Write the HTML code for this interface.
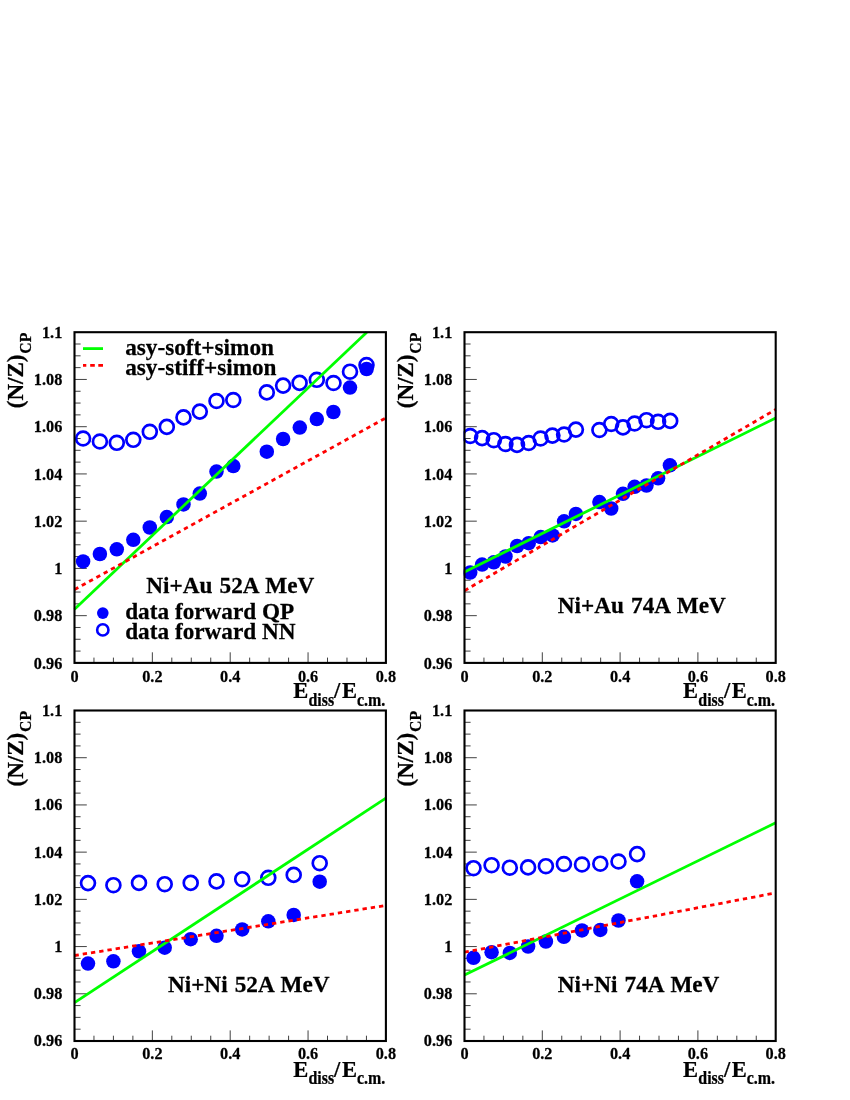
<!DOCTYPE html>
<html><head><meta charset="utf-8"><title>N/Z vs Ediss</title>
<style>
html,body{margin:0;padding:0;background:#fff;}
body{width:850px;height:1100px;overflow:hidden;font-family:"Liberation Serif", serif;}
svg{display:block;position:absolute;left:0;top:0;will-change:transform;}
svg text{font-family:"Liberation Serif", serif;font-weight:bold;fill:#000;stroke:#000;stroke-width:0.25px;}
</style></head>
<body>
<svg width="850" height="1100" viewBox="0 0 850 1100">
<rect x="0" y="0" width="850" height="1100" fill="#fff"/>
<g id="p1">
<clipPath id="c1"><rect x="73.5" y="331.2" width="313.4" height="332.7"/></clipPath>
<path d="M74.5 651.09h6.1M74.5 639.28h6.1M74.5 627.47h6.1M74.5 615.66h12.3M74.5 603.85h6.1M74.5 592.04h6.1M74.5 580.23h6.1M74.5 568.41h12.3M74.5 556.6h6.1M74.5 544.79h6.1M74.5 532.98h6.1M74.5 521.17h12.3M74.5 509.36h6.1M74.5 497.55h6.1M74.5 485.74h6.1M74.5 473.93h12.3M74.5 462.12h6.1M74.5 450.31h6.1M74.5 438.5h6.1M74.5 426.69h12.3M74.5 414.88h6.1M74.5 403.06h6.1M74.5 391.25h6.1M74.5 379.44h12.3M74.5 367.63h6.1M74.5 355.82h6.1M74.5 344.01h6.1M93.96 662.9v-5.3M113.42 662.9v-5.3M132.89 662.9v-5.3M152.35 662.9v-10.6M171.81 662.9v-5.3M191.27 662.9v-5.3M210.74 662.9v-5.3M230.2 662.9v-10.6M249.66 662.9v-5.3M269.12 662.9v-5.3M288.59 662.9v-5.3M308.05 662.9v-10.6M327.51 662.9v-5.3M346.97 662.9v-5.3M366.44 662.9v-5.3" stroke="#000" stroke-width="0.75" fill="none"/>
<g clip-path="url(#c1)" fill="none" stroke="#0000ff" stroke-width="2.7"><circle cx="83.1" cy="438.5" r="6.95"/><circle cx="99.9" cy="441.5" r="6.95"/><circle cx="116.8" cy="442.8" r="6.95"/><circle cx="133.3" cy="439.8" r="6.95"/><circle cx="149.8" cy="431.8" r="6.95"/><circle cx="166.8" cy="426.9" r="6.95"/><circle cx="183.5" cy="417.4" r="6.95"/><circle cx="199.8" cy="411.6" r="6.95"/><circle cx="216.5" cy="401" r="6.95"/><circle cx="233.3" cy="400" r="6.95"/><circle cx="266.8" cy="392.4" r="6.95"/><circle cx="283.1" cy="385.6" r="6.95"/><circle cx="299.6" cy="382.9" r="6.95"/><circle cx="316.8" cy="379.8" r="6.95"/><circle cx="333.5" cy="383" r="6.95"/><circle cx="350" cy="371.7" r="6.95"/><circle cx="366.5" cy="365" r="6.95"/></g>
<g clip-path="url(#c1)" fill="#0000ff"><circle cx="83.1" cy="561.4" r="7.25"/><circle cx="99.9" cy="554" r="7.25"/><circle cx="116.8" cy="549.3" r="7.25"/><circle cx="133.3" cy="539.8" r="7.25"/><circle cx="149.8" cy="527.5" r="7.25"/><circle cx="166.8" cy="517.1" r="7.25"/><circle cx="183.5" cy="504.4" r="7.25"/><circle cx="199.8" cy="493.6" r="7.25"/><circle cx="216.5" cy="471.6" r="7.25"/><circle cx="233.3" cy="466.1" r="7.25"/><circle cx="266.8" cy="451.7" r="7.25"/><circle cx="283.1" cy="439" r="7.25"/><circle cx="299.8" cy="427.6" r="7.25"/><circle cx="316.8" cy="419.1" r="7.25"/><circle cx="333.4" cy="412" r="7.25"/><circle cx="350" cy="387.6" r="7.25"/><circle cx="366.6" cy="369" r="7.25"/></g>
<line x1="74.5" y1="609.2" x2="366.8" y2="332.2" stroke="#00ff00" stroke-width="2.8"/>
<line x1="74.5" y1="589.6" x2="385.9" y2="417.9" stroke="#ff0000" stroke-width="2.8" stroke-dasharray="4.35 3.985"/>
<rect x="74.5" y="332.2" width="311.4" height="330.7" fill="none" stroke="#000" stroke-width="2.1"/>
<text transform="translate(62.3 668.7) scale(0.935 1)" text-anchor="end" font-size="17.4">0.96</text>
<text transform="translate(62.3 621.46) scale(0.935 1)" text-anchor="end" font-size="17.4">0.98</text>
<text transform="translate(62.3 574.21) scale(0.935 1)" text-anchor="end" font-size="17.4">1</text>
<text transform="translate(62.3 526.97) scale(0.935 1)" text-anchor="end" font-size="17.4">1.02</text>
<text transform="translate(62.3 479.73) scale(0.935 1)" text-anchor="end" font-size="17.4">1.04</text>
<text transform="translate(62.3 432.49) scale(0.935 1)" text-anchor="end" font-size="17.4">1.06</text>
<text transform="translate(62.3 385.24) scale(0.935 1)" text-anchor="end" font-size="17.4">1.08</text>
<text transform="translate(62.3 338) scale(0.935 1)" text-anchor="end" font-size="17.4">1.1</text>
<text transform="translate(74.5 681.8) scale(0.935 1)" text-anchor="middle" font-size="17.4">0</text>
<text transform="translate(152.35 681.8) scale(0.935 1)" text-anchor="middle" font-size="17.4">0.2</text>
<text transform="translate(230.2 681.8) scale(0.935 1)" text-anchor="middle" font-size="17.4">0.4</text>
<text transform="translate(308.05 681.8) scale(0.935 1)" text-anchor="middle" font-size="17.4">0.6</text>
<text transform="translate(385.9 681.8) scale(0.935 1)" text-anchor="middle" font-size="17.4">0.8</text>
<text transform="translate(293.3 698.4) scale(0.94 1)" font-size="24.0">E</text>
<text transform="translate(308.5 705.6) scale(0.895 1)" font-size="17.8">diss</text>
<text transform="translate(334.1 698.4) scale(0.94 1)" font-size="24.0">/</text>
<text transform="translate(341.9 698.4) scale(0.94 1)" font-size="24.0">E</text>
<text transform="translate(356.9 705.6) scale(0.895 1)" font-size="17.8">c.m.</text>
<text transform="translate(23.2 354.5) rotate(-90) scale(0.975 1)" text-anchor="end" font-size="23.6">(N/Z)</text>
<text transform="translate(30.8 332.7) rotate(-90) scale(0.935 1)" text-anchor="end" font-size="16.8">CP</text>
<text word-spacing="1.3" transform="translate(146.3 593) scale(0.985 1)" font-size="23.6">Ni+Au 52A MeV</text>
</g>
<g id="p2">
<clipPath id="c2"><rect x="463.5" y="331.2" width="313.2" height="332.7"/></clipPath>
<path d="M464.5 651.09h6.1M464.5 639.28h6.1M464.5 627.47h6.1M464.5 615.66h12.3M464.5 603.85h6.1M464.5 592.04h6.1M464.5 580.23h6.1M464.5 568.41h12.3M464.5 556.6h6.1M464.5 544.79h6.1M464.5 532.98h6.1M464.5 521.17h12.3M464.5 509.36h6.1M464.5 497.55h6.1M464.5 485.74h6.1M464.5 473.93h12.3M464.5 462.12h6.1M464.5 450.31h6.1M464.5 438.5h6.1M464.5 426.69h12.3M464.5 414.88h6.1M464.5 403.06h6.1M464.5 391.25h6.1M464.5 379.44h12.3M464.5 367.63h6.1M464.5 355.82h6.1M464.5 344.01h6.1M483.95 662.9v-5.3M503.4 662.9v-5.3M522.85 662.9v-5.3M542.3 662.9v-10.6M561.75 662.9v-5.3M581.2 662.9v-5.3M600.65 662.9v-5.3M620.1 662.9v-10.6M639.55 662.9v-5.3M659 662.9v-5.3M678.45 662.9v-5.3M697.9 662.9v-10.6M717.35 662.9v-5.3M736.8 662.9v-5.3M756.25 662.9v-5.3" stroke="#000" stroke-width="0.75" fill="none"/>
<g clip-path="url(#c2)" fill="none" stroke="#0000ff" stroke-width="2.7"><circle cx="470.2" cy="436" r="6.95"/><circle cx="482.1" cy="438.1" r="6.95"/><circle cx="493.8" cy="440.2" r="6.95"/><circle cx="505.4" cy="444" r="6.95"/><circle cx="517" cy="444.9" r="6.95"/><circle cx="528.7" cy="443" r="6.95"/><circle cx="540.6" cy="438.5" r="6.95"/><circle cx="552.4" cy="435.6" r="6.95"/><circle cx="564.1" cy="434.5" r="6.95"/><circle cx="575.9" cy="429.6" r="6.95"/><circle cx="599.4" cy="430" r="6.95"/><circle cx="611.2" cy="424" r="6.95"/><circle cx="623" cy="427.4" r="6.95"/><circle cx="634.6" cy="423.5" r="6.95"/><circle cx="646.5" cy="420.2" r="6.95"/><circle cx="658.1" cy="421.8" r="6.95"/><circle cx="670.2" cy="420.9" r="6.95"/></g>
<g clip-path="url(#c2)" fill="#0000ff"><circle cx="470.2" cy="572.5" r="7.25"/><circle cx="482.1" cy="564.6" r="7.25"/><circle cx="493.8" cy="562.3" r="7.25"/><circle cx="505.5" cy="556.5" r="7.25"/><circle cx="517.1" cy="546" r="7.25"/><circle cx="528.7" cy="543.2" r="7.25"/><circle cx="540.7" cy="537.1" r="7.25"/><circle cx="552.6" cy="535.4" r="7.25"/><circle cx="564.1" cy="521.3" r="7.25"/><circle cx="575.9" cy="513.9" r="7.25"/><circle cx="599.4" cy="502.1" r="7.25"/><circle cx="611.2" cy="508.5" r="7.25"/><circle cx="623" cy="493.8" r="7.25"/><circle cx="634.6" cy="486.8" r="7.25"/><circle cx="646.5" cy="485.5" r="7.25"/><circle cx="658.1" cy="478.3" r="7.25"/><circle cx="669.9" cy="465.3" r="7.25"/></g>
<line x1="464.5" y1="571.9" x2="775.7" y2="418" stroke="#00ff00" stroke-width="2.8"/>
<line x1="464.5" y1="590.7" x2="775.7" y2="409.5" stroke="#ff0000" stroke-width="2.8" stroke-dasharray="4.35 3.985"/>
<rect x="464.5" y="332.2" width="311.2" height="330.7" fill="none" stroke="#000" stroke-width="2.1"/>
<text transform="translate(452.3 668.7) scale(0.935 1)" text-anchor="end" font-size="17.4">0.96</text>
<text transform="translate(452.3 621.46) scale(0.935 1)" text-anchor="end" font-size="17.4">0.98</text>
<text transform="translate(452.3 574.21) scale(0.935 1)" text-anchor="end" font-size="17.4">1</text>
<text transform="translate(452.3 526.97) scale(0.935 1)" text-anchor="end" font-size="17.4">1.02</text>
<text transform="translate(452.3 479.73) scale(0.935 1)" text-anchor="end" font-size="17.4">1.04</text>
<text transform="translate(452.3 432.49) scale(0.935 1)" text-anchor="end" font-size="17.4">1.06</text>
<text transform="translate(452.3 385.24) scale(0.935 1)" text-anchor="end" font-size="17.4">1.08</text>
<text transform="translate(452.3 338) scale(0.935 1)" text-anchor="end" font-size="17.4">1.1</text>
<text transform="translate(464.5 681.8) scale(0.935 1)" text-anchor="middle" font-size="17.4">0</text>
<text transform="translate(542.3 681.8) scale(0.935 1)" text-anchor="middle" font-size="17.4">0.2</text>
<text transform="translate(620.1 681.8) scale(0.935 1)" text-anchor="middle" font-size="17.4">0.4</text>
<text transform="translate(697.9 681.8) scale(0.935 1)" text-anchor="middle" font-size="17.4">0.6</text>
<text transform="translate(775.7 681.8) scale(0.935 1)" text-anchor="middle" font-size="17.4">0.8</text>
<text transform="translate(683.1 698.4) scale(0.94 1)" font-size="24.0">E</text>
<text transform="translate(698.3 705.6) scale(0.895 1)" font-size="17.8">diss</text>
<text transform="translate(723.9 698.4) scale(0.94 1)" font-size="24.0">/</text>
<text transform="translate(731.7 698.4) scale(0.94 1)" font-size="24.0">E</text>
<text transform="translate(746.7 705.6) scale(0.895 1)" font-size="17.8">c.m.</text>
<text transform="translate(413.2 354.5) rotate(-90) scale(0.975 1)" text-anchor="end" font-size="23.6">(N/Z)</text>
<text transform="translate(420.8 332.7) rotate(-90) scale(0.935 1)" text-anchor="end" font-size="16.8">CP</text>
<text word-spacing="1.3" transform="translate(557.8 612.9) scale(0.985 1)" font-size="23.6">Ni+Au 74A MeV</text>
</g>
<g id="p3">
<clipPath id="c3"><rect x="73.5" y="709.5" width="313.4" height="332.5"/></clipPath>
<path d="M74.5 1029.2h6.1M74.5 1017.39h6.1M74.5 1005.59h6.1M74.5 993.79h12.3M74.5 981.98h6.1M74.5 970.18h6.1M74.5 958.38h6.1M74.5 946.57h12.3M74.5 934.77h6.1M74.5 922.96h6.1M74.5 911.16h6.1M74.5 899.36h12.3M74.5 887.55h6.1M74.5 875.75h6.1M74.5 863.95h6.1M74.5 852.14h12.3M74.5 840.34h6.1M74.5 828.54h6.1M74.5 816.73h6.1M74.5 804.93h12.3M74.5 793.12h6.1M74.5 781.32h6.1M74.5 769.52h6.1M74.5 757.71h12.3M74.5 745.91h6.1M74.5 734.11h6.1M74.5 722.3h6.1M93.96 1041v-5.3M113.42 1041v-5.3M132.89 1041v-5.3M152.35 1041v-10.6M171.81 1041v-5.3M191.27 1041v-5.3M210.74 1041v-5.3M230.2 1041v-10.6M249.66 1041v-5.3M269.12 1041v-5.3M288.59 1041v-5.3M308.05 1041v-10.6M327.51 1041v-5.3M346.97 1041v-5.3M366.44 1041v-5.3" stroke="#000" stroke-width="0.75" fill="none"/>
<g clip-path="url(#c3)" fill="none" stroke="#0000ff" stroke-width="2.7"><circle cx="88" cy="883.1" r="6.95"/><circle cx="113.4" cy="885.2" r="6.95"/><circle cx="139" cy="882.9" r="6.95"/><circle cx="164.7" cy="884.2" r="6.95"/><circle cx="190.7" cy="882.9" r="6.95"/><circle cx="216.5" cy="881.4" r="6.95"/><circle cx="242.2" cy="879.2" r="6.95"/><circle cx="268.3" cy="877.8" r="6.95"/><circle cx="293.7" cy="874.9" r="6.95"/><circle cx="319.7" cy="863.2" r="6.95"/></g>
<g clip-path="url(#c3)" fill="#0000ff"><circle cx="88" cy="963.6" r="7.25"/><circle cx="113.4" cy="961.3" r="7.25"/><circle cx="139" cy="951.3" r="7.25"/><circle cx="164.7" cy="947.7" r="7.25"/><circle cx="190.7" cy="939.2" r="7.25"/><circle cx="216.5" cy="935.8" r="7.25"/><circle cx="242.2" cy="929.4" r="7.25"/><circle cx="268.3" cy="921.3" r="7.25"/><circle cx="293.7" cy="914.9" r="7.25"/><circle cx="319.7" cy="881.7" r="7.25"/></g>
<line x1="74.5" y1="1002.6" x2="385.9" y2="798.2" stroke="#00ff00" stroke-width="2.8"/>
<line x1="74.5" y1="955.5" x2="385.9" y2="905.4" stroke="#ff0000" stroke-width="2.8" stroke-dasharray="4.35 3.985"/>
<rect x="74.5" y="710.5" width="311.4" height="330.5" fill="none" stroke="#000" stroke-width="2.1"/>
<text transform="translate(62.3 1046.4) scale(0.935 1)" text-anchor="end" font-size="17.4">0.96</text>
<text transform="translate(62.3 999.19) scale(0.935 1)" text-anchor="end" font-size="17.4">0.98</text>
<text transform="translate(62.3 951.97) scale(0.935 1)" text-anchor="end" font-size="17.4">1</text>
<text transform="translate(62.3 904.76) scale(0.935 1)" text-anchor="end" font-size="17.4">1.02</text>
<text transform="translate(62.3 857.54) scale(0.935 1)" text-anchor="end" font-size="17.4">1.04</text>
<text transform="translate(62.3 810.33) scale(0.935 1)" text-anchor="end" font-size="17.4">1.06</text>
<text transform="translate(62.3 763.11) scale(0.935 1)" text-anchor="end" font-size="17.4">1.08</text>
<text transform="translate(62.3 715.9) scale(0.935 1)" text-anchor="end" font-size="17.4">1.1</text>
<text transform="translate(74.5 1059.4) scale(0.935 1)" text-anchor="middle" font-size="17.4">0</text>
<text transform="translate(152.35 1059.4) scale(0.935 1)" text-anchor="middle" font-size="17.4">0.2</text>
<text transform="translate(230.2 1059.4) scale(0.935 1)" text-anchor="middle" font-size="17.4">0.4</text>
<text transform="translate(308.05 1059.4) scale(0.935 1)" text-anchor="middle" font-size="17.4">0.6</text>
<text transform="translate(385.9 1059.4) scale(0.935 1)" text-anchor="middle" font-size="17.4">0.8</text>
<text transform="translate(293.3 1076.5) scale(0.94 1)" font-size="24.0">E</text>
<text transform="translate(308.5 1083.7) scale(0.895 1)" font-size="17.8">diss</text>
<text transform="translate(334.1 1076.5) scale(0.94 1)" font-size="24.0">/</text>
<text transform="translate(341.9 1076.5) scale(0.94 1)" font-size="24.0">E</text>
<text transform="translate(356.9 1083.7) scale(0.895 1)" font-size="17.8">c.m.</text>
<text transform="translate(23.2 732.8) rotate(-90) scale(0.975 1)" text-anchor="end" font-size="23.6">(N/Z)</text>
<text transform="translate(30.8 711) rotate(-90) scale(0.935 1)" text-anchor="end" font-size="16.8">CP</text>
<text word-spacing="1.3" transform="translate(167.9 991.6) scale(0.985 1)" font-size="23.6">Ni+Ni 52A MeV</text>
</g>
<g id="p4">
<clipPath id="c4"><rect x="463.5" y="709.5" width="313.2" height="332.5"/></clipPath>
<path d="M464.5 1029.2h6.1M464.5 1017.39h6.1M464.5 1005.59h6.1M464.5 993.79h12.3M464.5 981.98h6.1M464.5 970.18h6.1M464.5 958.38h6.1M464.5 946.57h12.3M464.5 934.77h6.1M464.5 922.96h6.1M464.5 911.16h6.1M464.5 899.36h12.3M464.5 887.55h6.1M464.5 875.75h6.1M464.5 863.95h6.1M464.5 852.14h12.3M464.5 840.34h6.1M464.5 828.54h6.1M464.5 816.73h6.1M464.5 804.93h12.3M464.5 793.12h6.1M464.5 781.32h6.1M464.5 769.52h6.1M464.5 757.71h12.3M464.5 745.91h6.1M464.5 734.11h6.1M464.5 722.3h6.1M483.95 1041v-5.3M503.4 1041v-5.3M522.85 1041v-5.3M542.3 1041v-10.6M561.75 1041v-5.3M581.2 1041v-5.3M600.65 1041v-5.3M620.1 1041v-10.6M639.55 1041v-5.3M659 1041v-5.3M678.45 1041v-5.3M697.9 1041v-10.6M717.35 1041v-5.3M736.8 1041v-5.3M756.25 1041v-5.3" stroke="#000" stroke-width="0.75" fill="none"/>
<g clip-path="url(#c4)" fill="none" stroke="#0000ff" stroke-width="2.7"><circle cx="473.5" cy="868.2" r="6.95"/><circle cx="491.6" cy="865.2" r="6.95"/><circle cx="509.8" cy="867.7" r="6.95"/><circle cx="528.1" cy="867.4" r="6.95"/><circle cx="545.9" cy="866.2" r="6.95"/><circle cx="563.9" cy="864" r="6.95"/><circle cx="582" cy="864.5" r="6.95"/><circle cx="600.3" cy="863.7" r="6.95"/><circle cx="618.5" cy="861.5" r="6.95"/><circle cx="637.1" cy="854.1" r="6.95"/></g>
<g clip-path="url(#c4)" fill="#0000ff"><circle cx="473.5" cy="957.8" r="7.25"/><circle cx="491.6" cy="952.2" r="7.25"/><circle cx="509.8" cy="952.9" r="7.25"/><circle cx="528.1" cy="946.5" r="7.25"/><circle cx="545.9" cy="941.5" r="7.25"/><circle cx="563.9" cy="936.8" r="7.25"/><circle cx="582" cy="930.4" r="7.25"/><circle cx="600.3" cy="929.9" r="7.25"/><circle cx="618.5" cy="920.5" r="7.25"/><circle cx="637.1" cy="881.3" r="7.25"/></g>
<line x1="464.5" y1="975.1" x2="775.7" y2="822.8" stroke="#00ff00" stroke-width="2.8"/>
<line x1="464.5" y1="952.2" x2="775.7" y2="892.9" stroke="#ff0000" stroke-width="2.8" stroke-dasharray="4.35 3.985"/>
<rect x="464.5" y="710.5" width="311.2" height="330.5" fill="none" stroke="#000" stroke-width="2.1"/>
<text transform="translate(452.3 1046.4) scale(0.935 1)" text-anchor="end" font-size="17.4">0.96</text>
<text transform="translate(452.3 999.19) scale(0.935 1)" text-anchor="end" font-size="17.4">0.98</text>
<text transform="translate(452.3 951.97) scale(0.935 1)" text-anchor="end" font-size="17.4">1</text>
<text transform="translate(452.3 904.76) scale(0.935 1)" text-anchor="end" font-size="17.4">1.02</text>
<text transform="translate(452.3 857.54) scale(0.935 1)" text-anchor="end" font-size="17.4">1.04</text>
<text transform="translate(452.3 810.33) scale(0.935 1)" text-anchor="end" font-size="17.4">1.06</text>
<text transform="translate(452.3 763.11) scale(0.935 1)" text-anchor="end" font-size="17.4">1.08</text>
<text transform="translate(452.3 715.9) scale(0.935 1)" text-anchor="end" font-size="17.4">1.1</text>
<text transform="translate(464.5 1059.4) scale(0.935 1)" text-anchor="middle" font-size="17.4">0</text>
<text transform="translate(542.3 1059.4) scale(0.935 1)" text-anchor="middle" font-size="17.4">0.2</text>
<text transform="translate(620.1 1059.4) scale(0.935 1)" text-anchor="middle" font-size="17.4">0.4</text>
<text transform="translate(697.9 1059.4) scale(0.935 1)" text-anchor="middle" font-size="17.4">0.6</text>
<text transform="translate(775.7 1059.4) scale(0.935 1)" text-anchor="middle" font-size="17.4">0.8</text>
<text transform="translate(683.1 1076.5) scale(0.94 1)" font-size="24.0">E</text>
<text transform="translate(698.3 1083.7) scale(0.895 1)" font-size="17.8">diss</text>
<text transform="translate(723.9 1076.5) scale(0.94 1)" font-size="24.0">/</text>
<text transform="translate(731.7 1076.5) scale(0.94 1)" font-size="24.0">E</text>
<text transform="translate(746.7 1083.7) scale(0.895 1)" font-size="17.8">c.m.</text>
<text transform="translate(413.2 732.8) rotate(-90) scale(0.975 1)" text-anchor="end" font-size="23.6">(N/Z)</text>
<text transform="translate(420.8 711) rotate(-90) scale(0.935 1)" text-anchor="end" font-size="16.8">CP</text>
<text word-spacing="1.3" transform="translate(557.8 991.7) scale(0.985 1)" font-size="23.6">Ni+Ni 74A MeV</text>
</g>
<g id="legend">
<line x1="83" y1="348.6" x2="103" y2="348.6" stroke="#00ff00" stroke-width="2.8"/>
<line x1="83" y1="365.3" x2="103" y2="365.3" stroke="#ff0000" stroke-width="2.8" stroke-dasharray="3.3 3.9 4.6 3.5 5 0"/>
<text transform="translate(125.2 354.9) scale(0.985 1)" font-size="23.6">asy-soft+simon</text>
<text transform="translate(125.2 374.8) scale(0.985 1)" font-size="23.6">asy-stiff+simon</text>
<circle cx="102.8" cy="613.1" r="5.8" fill="#0000ff"/>
<circle cx="102.8" cy="629.9" r="5.65" fill="none" stroke="#0000ff" stroke-width="2.6"/>
<text transform="translate(125.2 618.7) scale(0.985 1)" font-size="23.6">data forward QP</text>
<text transform="translate(125.2 639.4) scale(0.985 1)" font-size="23.6">data forward NN</text>
</g>
</svg>
</body></html>
